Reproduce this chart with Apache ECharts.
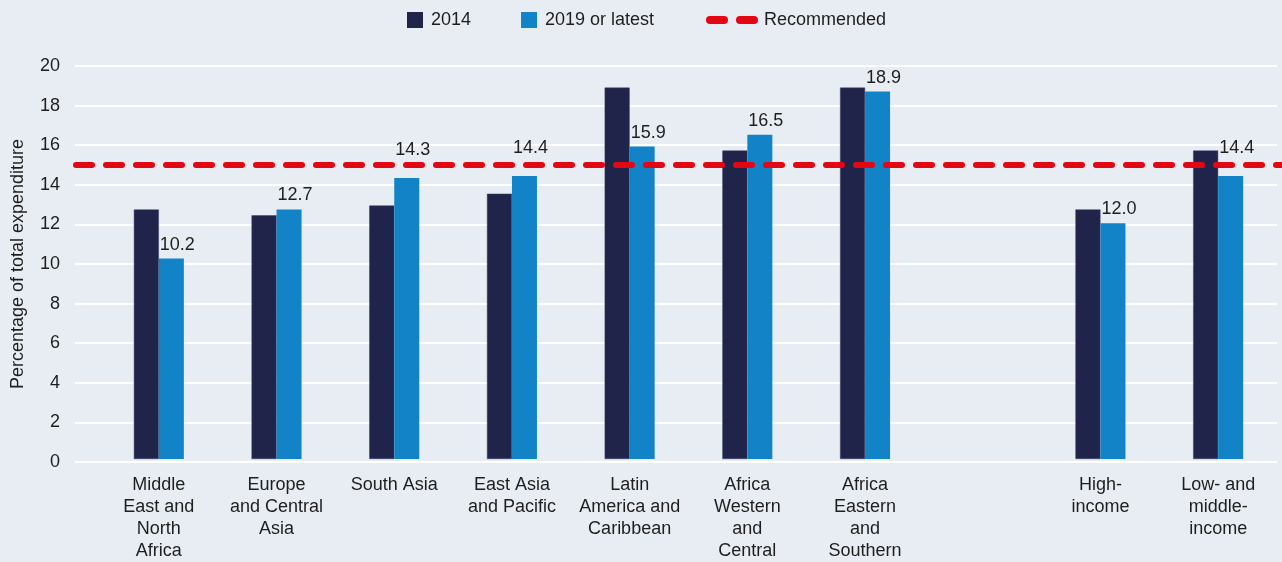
<!DOCTYPE html>
<html>
<head>
<meta charset="utf-8">
<script src="https://cdn.jsdelivr.net/npm/echarts@6/dist/echarts.min.js"></script>
<style>
  html, body { margin: 0; padding: 0; background: #e8edf4; }
  #chart { width: 1282px; height: 562px; }
</style>
</head>
<body>
<div id="chart"></div>
<script>
// data
var categories = [
    "Middle\nEast and\nNorth\nAfrica",
    "Europe\nand Central\nAsia",
    "South Asia",
    "East Asia\nand Pacific",
    "Latin\nAmerica and\nCaribbean",
    "Africa\nWestern\nand\nCentral",
    "Africa\nEastern\nand\nSouthern",
    "",
    "High-\nincome",
    "Low- and\nmiddle-\nincome"
];
var values2014 = [12.7, 12.4, 12.9, 13.5, 18.9, 15.7, 18.9, null, 12.7, 15.7];
var values2019 = [10.2, 12.7, 14.3, 14.4, 15.9, 16.5, 18.7, null, 12.0, 14.4];
var labels2019 = ["10.2", "12.7", "14.3", "14.4", "15.9", "16.5", "18.9", "", "12.0", "14.4"];
var recommended = 15;
var yTicks = [0, 2, 4, 6, 8, 10, 12, 14, 16, 18, 20];

var font = "Liberation Sans, Arial, sans-serif";
var textColor = "#1e1e1e";

var myChart = echarts.init(document.getElementById("chart"));

// 2019 bars: labels pushed above the recommended line when they would sit on it
var data2019 = values2019.map(function (v, i) {
    var up = (v !== null && v >= recommended - 1 && v < recommended) ? -14 : 0;
    return {
        value: v,
        label: { formatter: labels2019[i], offset: [6, up] }
    };
});

var option = {
    backgroundColor: "#e8edf4",
    textStyle: { fontFamily: font },
    legend: [
        {
            data: ["2014", "2019 or latest"],
            left: 407,
            top: 11,
            padding: 0,
            itemWidth: 16,
            itemHeight: 16,
            itemGap: 50,
            icon: "rect",
            itemStyle: { borderWidth: 0 },
            textStyle: { fontSize: 18, color: textColor, fontFamily: font, padding: [0, 0, 0, 3] }
        },
        {
            data: ["Recommended"],
            left: 706,
            top: 11,
            padding: 0,
            itemWidth: 52,
            itemHeight: 8,
            icon: "path://M4,0H18A4,4,0,0,1,18,8H4A4,4,0,0,1,4,0ZM34,0H48A4,4,0,0,1,48,8H34A4,4,0,0,1,34,0Z",
            textStyle: { fontSize: 18, color: textColor, fontFamily: font, padding: [0, 0, 0, 1] }
        }
    ],
    grid: [
        { left: 75, right: 5, top: 66, bottom: 100 },   // gridlines + y axis
        { left: 100, right: 5, top: 66, bottom: 100 },  // bars
        { left: 76, right: 0, top: 66, bottom: 100 }    // recommended line
    ],
    xAxis: [
        { gridIndex: 0, type: "value", min: 0, max: 1, show: false },
        {
            gridIndex: 1,
            type: "category",
            data: categories,
            axisLine: { show: false },
            axisTick: { show: false },
            axisLabel: {
                interval: 0,
                margin: 15,
                fontSize: 18,
                lineHeight: 22,
                color: textColor,
                fontFamily: font
            }
        },
        { gridIndex: 2, type: "value", min: 0, max: 1, show: false }
    ],
    yAxis: [
        {
            gridIndex: 0,
            type: "value",
            min: yTicks[0],
            max: yTicks[yTicks.length - 1],
            interval: 2,
            name: "Percentage of total expenditure",
            nameLocation: "middle",
            nameGap: 48,
            nameTextStyle: { fontSize: 18, color: textColor, fontFamily: font },
            axisLine: { show: false },
            axisTick: { show: false },
            axisLabel: { fontSize: 18, color: textColor, margin: 15, fontFamily: font },
            splitLine: { lineStyle: { color: "#ffffff", width: 2 } }
        },
        { gridIndex: 1, type: "value", min: 0, max: 20, show: false },
        { gridIndex: 2, type: "value", min: 0, max: 20, show: false }
    ],
    series: [
        {
            name: "2014",
            type: "bar",
            xAxisIndex: 1,
            yAxisIndex: 1,
            data: values2014,
            barWidth: 25,
            barGap: "0%",
            itemStyle: { color: "#20244a", borderColor: "#3a4068", borderWidth: 0.5 }
        },
        {
            name: "2019 or latest",
            type: "bar",
            xAxisIndex: 1,
            yAxisIndex: 1,
            data: data2019,
            barWidth: 25,
            barGap: "0%",
            itemStyle: { color: "#1283c6" },
            label: {
                show: true,
                position: "top",
                distance: 5,
                fontSize: 18,
                color: textColor,
                fontFamily: font
            },
            z: 3
        },
        {
            name: "Recommended",
            type: "line",
            xAxisIndex: 2,
            yAxisIndex: 2,
            data: [[0, recommended], [1, recommended]],
            symbol: "none",
            silent: true,
            color: "#e30613",
            lineStyle: { color: "#e30613", width: 6, type: [16, 14], cap: "round" },
            z: 5
        }
    ]
};

myChart.setOption(option);
window.addEventListener("resize", function () {
    myChart.resize();
});
</script>
</body>
</html>
